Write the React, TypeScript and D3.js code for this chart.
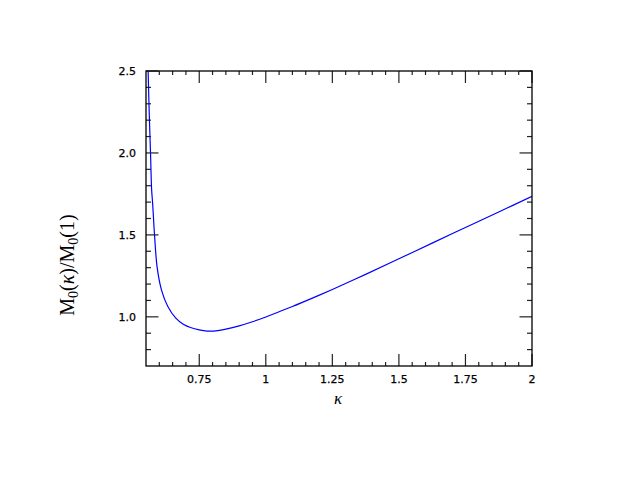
import React, { useRef, useEffect } from "react";
import * as d3 from "d3";

// values
const kappa = [
  0.558, 0.562, 0.567, 0.571, 0.575, 0.582, 0.592, 0.608, 0.632, 0.662, 0.69,
  0.717, 0.75, 0.78, 0.82, 0.85, 0.9, 0.95, 1.0, 1.05, 1.1, 1.175, 1.25,
  1.375, 1.5, 1.625, 1.75, 1.875, 2.0,
];
const ratio = [
  2.5, 2.25, 2.0, 1.78, 1.69, 1.5, 1.3, 1.165, 1.063, 0.992, 0.955,
  0.935, 0.92, 0.913, 0.916, 0.925, 0.945, 0.97, 0.999, 1.031, 1.063, 1.114, 1.167,
  1.259, 1.354, 1.45, 1.545, 1.64, 1.735,
];

const xTicks = [0.75, 1, 1.25, 1.5, 1.75, 2];
const xTickLabels = ["0.75", "1", "1.25", "1.5", "1.75", "2"];
const xMinor = [0.6, 0.65, 0.7, 0.8, 0.85, 0.9, 0.95, 1.05, 1.1, 1.15, 1.2, 1.3, 1.35, 1.4, 1.45, 1.55, 1.6, 1.65, 1.7, 1.8, 1.85, 1.9, 1.95];
const yTicks = [1.0, 1.5, 2.0, 2.5];
const yTickLabels = ["1.0", "1.5", "2.0", "2.5"];
const yMinor = [0.8, 0.9, 1.1, 1.2, 1.3, 1.4, 1.6, 1.7, 1.8, 1.9, 2.1, 2.2, 2.3, 2.4];

const W = 623;
const H = 481;
const margin = { left: 146, right: 91, top: 71, bottom: 115 };

const App = () => {
  const svgRef = useRef<SVGSVGElement>(null);

  useEffect(() => {
    const width = W - margin.left - margin.right;
    const height = H - margin.top - margin.bottom;
    const x = d3.scaleLinear().domain([0.55, 2]).range([0, width]);
    const y = d3.scaleLinear().domain([0.7, 2.5]).range([height, 0]);

    const svg = d3.select(svgRef.current);
    svg.selectAll("*").remove();

    svg.append("defs").append("clipPath").attr("id", "plotclip")
      .append("rect").attr("width", width).attr("height", height);

    const g = svg.append("g").attr("transform", `translate(${margin.left},${margin.top})`);

    const data = kappa.map((k, i) => ({ k, v: ratio[i] }));
    const line = d3.line<{ k: number; v: number }>()
      .x((d) => x(d.k))
      .y((d) => y(d.v))
      .curve(d3.curveCatmullRom.alpha(0.5));

    g.append("path")
      .datum(data)
      .attr("clip-path", "url(#plotclip)")
      .attr("fill", "none")
      .attr("stroke", "#0000ff")
      .attr("stroke-width", 1.2)
      .attr("d", line);

    // ticks, all pointing inward, on all four sides
    const tick = (x1: number, y1: number, x2: number, y2: number) =>
      g.append("line").attr("x1", x1).attr("y1", y1).attr("x2", x2).attr("y2", y2)
        .attr("stroke", "#222").attr("stroke-width", 1.2);

    xTicks.forEach((t) => { tick(x(t), height, x(t), height - 12); tick(x(t), 0, x(t), 12); });
    xMinor.forEach((t) => { tick(x(t), height, x(t), height - 4); tick(x(t), 0, x(t), 4); });
    yTicks.forEach((t) => { tick(0, y(t), 12.5, y(t)); tick(width, y(t), width - 12.5, y(t)); });
    yMinor.forEach((t) => { tick(0, y(t), 5, y(t)); tick(width, y(t), width - 5, y(t)); });

    g.append("rect")
      .attr("width", width).attr("height", height)
      .attr("fill", "none").attr("stroke", "#000").attr("stroke-width", 1.3);

    const font = "'DejaVu Sans', sans-serif";
    g.selectAll(".xl").data(xTicks).enter().append("text")
      .attr("x", (d) => x(d)).attr("y", height + 17)
      .attr("text-anchor", "middle")
      .attr("font-family", font).attr("font-size", 11)
      .attr("stroke", "#000").attr("stroke-width", 0.25)
      .text((d, i) => xTickLabels[i]);

    g.selectAll(".yl").data(yTicks).enter().append("text")
      .attr("x", -10).attr("y", (d) => y(d) + 4)
      .attr("text-anchor", "end")
      .attr("font-family", font).attr("font-size", 11)
      .attr("stroke", "#000").attr("stroke-width", 0.25)
      .text((d, i) => yTickLabels[i]);

    svg.append("text")
      .attr("x", 338).attr("y", 404)
      .attr("text-anchor", "middle")
      .attr("font-family", "'Liberation Serif', serif")
      .attr("font-style", "italic").attr("font-size", 17)
      .text("κ");

    const yl = svg.append("text")
      .attr("transform", "translate(74,265) rotate(-90)")
      .attr("text-anchor", "middle")
      .attr("font-family", "'Liberation Serif', serif")
      .attr("font-size", 20);
    yl.append("tspan").text("M");
    yl.append("tspan").attr("dy", 4).attr("font-size", 14).text("0");
    yl.append("tspan").attr("dy", -4).text("(");
    yl.append("tspan").attr("font-style", "italic").text("κ");
    yl.append("tspan").text(")/M");
    yl.append("tspan").attr("dy", 4).attr("font-size", 14).text("0");
    yl.append("tspan").attr("dy", -4).text("(1)");
  }, []);

  return (
    <svg ref={svgRef} width={W} height={H}
      style={{ position: "absolute", left: 0, top: 0, background: "#fff" }} />
  );
};

export default App;
